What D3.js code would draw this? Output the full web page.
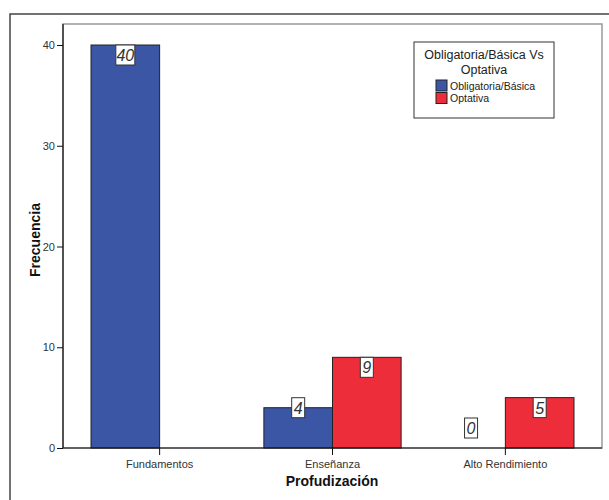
<!DOCTYPE html>
<html><head><meta charset="utf-8">
<script src="https://cdn.jsdelivr.net/npm/d3@7"></script>
<style>body{margin:0;background:#fff}svg{display:block}text{font-family:"Liberation Sans",Arial,sans-serif}</style>
</head><body>
<svg id="c" width="609" height="500"></svg>
<script>
const categories = ["Fundamentos", "Enseñanza", "Alto Rendimiento"];
const seriesNames = ["Obligatoria/Básica", "Optativa"];
const obligatoria = [40, 4, 0];
const optativa = [0, 9, 5];
const yTicks = [0, 10, 20, 30, 40];
const colors = ["#3C56A6", "#EE2D3A"];

const svg = d3.select("#c");
const L = 63, R = 602, T = 24, B = 448;
// outer frame
svg.append("rect").attr("x", 10).attr("y", 14).attr("width", 620).attr("height", 520)
  .attr("fill", "none").attr("stroke", "#444").attr("stroke-width", 1.5);
// inner frame
svg.append("rect").attr("x", L).attr("y", T).attr("width", R - L).attr("height", B - T)
  .attr("fill", "#fff").attr("stroke", "#999").attr("stroke-width", 1.5);

const x = d3.scaleBand().domain(categories).range([L, R]).paddingInner(0.206).paddingOuter(0.162);
const xs = d3.scaleBand().domain(seriesNames).range([0, x.bandwidth()]);
const y = d3.scaleLinear().domain([0, 40]).range([B, 45]);

const data = [];
categories.forEach((c, i) => {
  data.push({cat: c, s: seriesNames[0], v: obligatoria[i], col: colors[0]});
  data.push({cat: c, s: seriesNames[1], v: optativa[i], col: colors[1]});
});

svg.append("g").selectAll("rect").data(data).join("rect")
  .attr("x", d => x(d.cat) + xs(d.s))
  .attr("y", d => y(d.v))
  .attr("width", xs.bandwidth())
  .attr("height", d => B - y(d.v))
  .attr("fill", d => d.col)
  .attr("stroke", "#222").attr("stroke-width", 1);

// axes
const yAxis = svg.append("g").attr("transform", `translate(${L},0)`)
  .call(d3.axisLeft(y).tickValues(yTicks).tickSize(6).tickPadding(2));
yAxis.select(".domain").remove();
svg.append("line").attr("x1", L).attr("x2", L).attr("y1", T).attr("y2", B).attr("stroke", "#111").attr("stroke-width", 1.2);
yAxis.selectAll("text").attr("font-size", 11).attr("fill", "#333");
yAxis.selectAll("line").attr("stroke", "#111");

const xAxis = svg.append("g").attr("transform", `translate(0,${B})`)
  .call(d3.axisBottom(x).tickSize(7).tickPadding(5));
xAxis.select(".domain").remove();
svg.append("line").attr("x1", L).attr("x2", R).attr("y1", B).attr("y2", B).attr("stroke", "#111").attr("stroke-width", 1.2);
xAxis.selectAll("text").attr("font-size", 11).attr("fill", "#333");
xAxis.selectAll("line").attr("stroke", "#111");

// value labels
const lab = svg.append("g").selectAll("g").data(data).join("g");
lab.each(function(d) {
  const g = d3.select(this);
  const cx = x(d.cat) + xs(d.s) + xs.bandwidth() / 2;
  const txt = String(d.v);
  const w = txt.length > 1 ? 19 : 13, h = 20;
  const barH = B - y(d.v);
  let top;
  if (d.v === 0) top = B - 30;
  else if (barH < 2.5 * h) top = y(d.v) - h / 2;
  else top = y(d.v);
  if (d.v === 0 && d.s === seriesNames[1]) return; // reference shows no label here
  g.append("rect").attr("x", cx - w / 2).attr("y", top).attr("width", w).attr("height", h)
    .attr("fill", "#fff").attr("stroke", "#333").attr("stroke-width", 1);
  g.append("text").attr("x", cx).attr("y", top + h / 2 + 6).attr("text-anchor", "middle")
    .attr("font-size", 16).attr("font-style", "italic").attr("fill", "#333").text(txt);
});

// axis titles
svg.append("text").attr("x", 332).attr("y", 486).attr("text-anchor", "middle")
  .attr("font-size", 14).attr("font-weight", "bold").attr("fill", "#111").text("Profudización");
svg.append("text").attr("transform", "translate(40,240) rotate(-90)").attr("text-anchor", "middle")
  .attr("font-size", 14).attr("font-weight", "bold").attr("fill", "#111").text("Frecuencia");

// legend
const lg = svg.append("g");
lg.append("rect").attr("x", 414).attr("y", 42).attr("width", 140).attr("height", 76)
  .attr("fill", "#fff").attr("stroke", "#333").attr("stroke-width", 1);
lg.append("text").attr("x", 484).attr("y", 59).attr("text-anchor", "middle").attr("font-size", 12.5).attr("fill", "#222").text("Obligatoria/Básica Vs");
lg.append("text").attr("x", 484).attr("y", 73.5).attr("text-anchor", "middle").attr("font-size", 12.5).attr("fill", "#222").text("Optativa");
seriesNames.forEach((s, i) => {
  lg.append("rect").attr("x", 436).attr("y", 80 + i * 12.5).attr("width", 11).attr("height", 11)
    .attr("fill", colors[i]).attr("stroke", "#222").attr("stroke-width", 1);
  lg.append("text").attr("x", 450).attr("y", 89.5 + i * 12.5).attr("font-size", 10.5).attr("fill", "#222").text(s);
});
</script>
</body></html>
